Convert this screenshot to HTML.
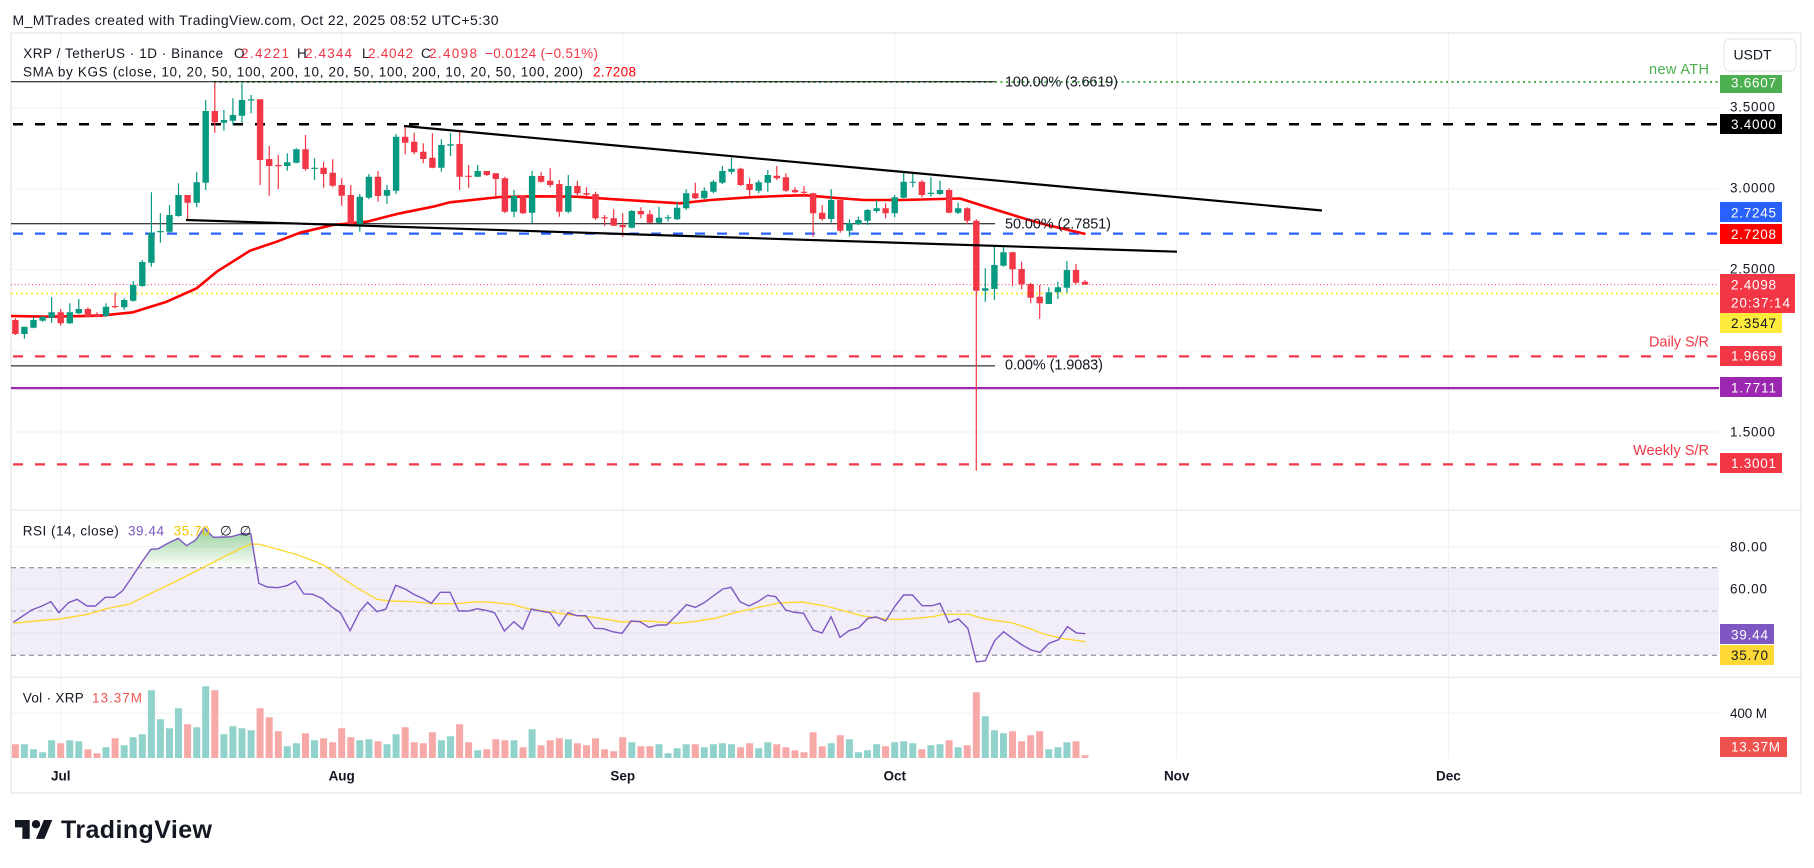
<!DOCTYPE html>
<html><head><meta charset="utf-8"><style>
html,body{margin:0;padding:0;background:#fff;}
svg{display:block;font-family:"Liberation Sans",sans-serif;}
</style></head><body>
<svg width="1814" height="868" viewBox="0 0 1814 868" xmlns="http://www.w3.org/2000/svg">
<defs>
<clipPath id="mc"><rect x="11" y="34" width="1708" height="476"/></clipPath>
<clipPath id="rc"><rect x="11" y="511" width="1708" height="166"/></clipPath>
<linearGradient id="gf" x1="0" y1="0" x2="0" y2="1"><stop offset="0" stop-color="#4caf50" stop-opacity="0.6"/><stop offset="1" stop-color="#4caf50" stop-opacity="0"/></linearGradient>
</defs>
<rect width="1814" height="868" fill="#fff"/>
<text x="12.5" y="25" font-size="14" fill="#131722" textLength="486">M_MTrades created with TradingView.com, Oct 22, 2025 08:52 UTC+5:30</text>
<rect x="11" y="33" width="1790" height="760" fill="#fff" stroke="#efeff2" stroke-width="2"/>

<!-- grid -->
<g stroke="#f0f1f4" stroke-width="1">
<path d="M60.7 34V758M341.7 34V758M622.7 34V758M894.7 34V758M1176.7 34V758M1448.4 34V758"/>
<path d="M11 108.3H1719M11 189H1719M11 269.5H1719M11 351H1719M11 432H1719M11 546.7H1719M11 589H1719M11 633H1719M11 713.3H1719"/>
</g>
<path d="M11 510H1801M11 677.3H1801" stroke="#e0e3eb" stroke-width="1"/>

<!-- main pane -->
<g clip-path="url(#mc)">
<path d="M13 124.2H1719" stroke="#000" stroke-width="2.5" stroke-dasharray="10 12"/>
<path d="M13 233.6H1719" stroke="#2962ff" stroke-width="2.2" stroke-dasharray="10 12"/>
<path d="M13 356.4H1719" stroke="#f23645" stroke-width="2.2" stroke-dasharray="10 12"/>
<path d="M13 464.4H1719" stroke="#f23645" stroke-width="2.2" stroke-dasharray="10 12"/>
<path d="M11 388.1H1719" stroke="#9c27b0" stroke-width="2.2"/>
<path d="M214 82H1719" stroke="#4caf50" stroke-width="2" stroke-dasharray="2 3.5"/>
<path d="M11 293.5H1719" stroke="#ffeb3b" stroke-width="2" stroke-dasharray="2 3"/>
<path d="M11 284.6H1719" stroke="#f23645" stroke-width="1" stroke-dasharray="1 2.5"/>
<path d="M11 81.8H995M11 223.8H995M11 365.9H995" stroke="#000" stroke-width="1"/>
<polyline fill="none" stroke="#ff0000" stroke-width="2.6" stroke-linejoin="round" points="11,316 50,316.7 100,315.7 133,312.3 166.7,301.7 196.7,288.3 216.7,271.7 250,250.7 276.7,241.7 300,232.7 333,225 366.7,221.7 400,213.3 433,206.7 450,202.3 500,197 538,196.3 576.5,196.7 614.8,199.3 653,201.7 680,203.3 710.5,200 748.8,197.3 787,195.7 806,195.3 833,197.7 863.6,200 901.8,200 940,199 960,198.5 986,206.7 1026.7,219.3 1047,225 1085.5,234"/>
<!-- wicks -->
<path stroke="#089981" stroke-width="1.2" fill="none" d="M24.4 326.7V338.7M33.5 316.7V328.3M42.6 316V321.7M51.6 297.3V322.7M69.8 303.3V324M78.8 299V314M106 303.3V316.7M124.2 298.3V310M133.2 281V301.7M142.3 260V286.7M151.4 192.3V266.7M160.4 213.3V242.7M169.5 205V232.7M178.5 183.3V216.7M196.7 172.3V207.3M205.7 100V190M223.9 110V130.7M232.9 98.3V125M242 83.3V122.7M251.1 95V113.3M287.3 153.3V170.7M296.4 148.3V163.3M314.5 158.3V180M359.8 194V231.7M368.9 174V199.3M387 185V204M396.1 134V194M441.4 139.3V171.7M450.5 133.3V156M477.7 165V177M514 190V217.3M532.1 170.7V223.3M568.3 175V213.3M631.8 210V228.3M659 206.7V223.3M668.1 215V221.7M677.1 201.7V220M686.2 189.3V210M704.3 187.3V199.3M713.4 180V193.3M722.4 166V184M731.5 157.7V174M758.7 180V193.3M767.8 170V191.7M831.2 189.3V222.7M849.4 219.3V236.7M858.4 216.7V225M867.5 209V225M876.6 200V212.7M894.7 195V217.3M903.7 172.7V198.3M912.8 173.3V187.3M930.9 177.3V196.7M940 180.7V195M958.1 202.7V214M985.3 268.3V301.7M994.4 246.7V300M1003.5 246.7V266.7M1048.8 287.3V304M1057.9 281.7V299M1066.9 261V292.7"/>
<path stroke="#f23645" stroke-width="1.2" fill="none" d="M15.4 318.3V335M60.7 309V325.7M87.9 307.3V317.3M97 312.3V317.3M115.1 292.7V308.3M187.6 195V219.3M214.8 82.7V132.7M260.1 99.3V185M269.2 146V195.7M278.3 155V189M305.5 135V170.7M323.6 161.7V187.7M332.7 159.3V187.3M341.7 178.3V205.7M350.8 185V226.7M378 171V201.7M405.2 125.7V154.3M414.2 132.7V154.3M423.3 143.3V163.3M432.4 133.3V168.3M459.6 131.7V190M468.6 165V187.7M486.8 171V176M495.8 173.3V196.7M504.9 176.7V213.3M523 195V214M541.1 171.7V182.7M550.2 168.3V187.3M559.3 180V216.7M577.4 180.7V195M586.5 187.3V196.7M595.5 191.7V220M604.6 215V226M613.7 209.3V226M622.7 213.3V236.7M640.9 207.3V218.3M649.9 210V223.3M695.3 182.7V199M740.6 167.7V186M749.6 178.3V196M776.8 166V180M785.9 173.3V191.7M795 187.3V193.3M804 186V196.7M813.1 192.7V236.7M822.2 205V220.7M840.3 198.3V232.7M885.6 203.3V218.3M921.9 180V197.3M949.1 188.3V213.3M967.2 207.3V224M976.3 219.3V470.7M1012.5 251.7V286M1021.6 261.7V289.3M1030.7 282.7V303.3M1039.7 285V319M1076 264V284M1085 280V284.6"/>
<!-- bodies -->
<path fill="#089981" d="M21.2 326.7h6.4V334h-6.4zM30.3 320h6.4V327.7h-6.4zM39.4 316.7h6.4V320.7h-6.4zM48.4 312.3h6.4V317.7h-6.4zM66.6 312.3h6.4V323.3h-6.4zM75.6 309h6.4V313.3h-6.4zM102.8 306.7h6.4V316h-6.4zM121 300h6.4V307.3h-6.4zM130 285h6.4V300.7h-6.4zM139.1 262h6.4V286h-6.4zM148.2 232.7h6.4V262.7h-6.4zM157.2 231h6.4V232.3h-6.4zM166.3 215h6.4V231.7h-6.4zM175.3 195h6.4V216h-6.4zM193.5 182.3h6.4V202.7h-6.4zM202.5 111h6.4V182.7h-6.4zM220.7 120h6.4V122.7h-6.4zM229.7 115h6.4V120.7h-6.4zM238.8 100h6.4V115.7h-6.4zM247.9 99.3h6.4V100.5h-6.4zM284.1 162.3h6.4V166h-6.4zM293.2 149.3h6.4V162.7h-6.4zM311.3 167.7h6.4V169h-6.4zM356.6 196.7h6.4V225.7h-6.4zM365.7 176.7h6.4V197.7h-6.4zM383.8 190h6.4V195.7h-6.4zM392.9 136.7h6.4V190.7h-6.4zM438.2 145h6.4V167.7h-6.4zM447.3 144.3h6.4V145.7h-6.4zM474.5 171h6.4V176.7h-6.4zM510.8 196h6.4V211.7h-6.4zM528.9 176h6.4V212.7h-6.4zM565.1 186h6.4V211.7h-6.4zM628.6 211h6.4V227.7h-6.4zM655.8 217.7h6.4V222.7h-6.4zM664.9 217.3h6.4V218.5h-6.4zM673.9 207.7h6.4V219.3h-6.4zM683 193.3h6.4V208.3h-6.4zM701.1 190.7h6.4V198.3h-6.4zM710.2 181.7h6.4V191.7h-6.4zM719.2 171h6.4V182.7h-6.4zM728.3 168.7h6.4V171.7h-6.4zM755.5 182.3h6.4V190.7h-6.4zM764.6 175h6.4V182.7h-6.4zM828 200h6.4V219h-6.4zM846.2 223.3h6.4V230.7h-6.4zM855.2 220h6.4V224h-6.4zM864.3 210h6.4V220.7h-6.4zM873.4 208.3h6.4V211h-6.4zM891.5 197.3h6.4V213.3h-6.4zM900.5 181.7h6.4V197.7h-6.4zM909.6 181.7h6.4V182.7h-6.4zM927.7 192.7h6.4V194h-6.4zM936.8 190h6.4V194h-6.4zM954.9 208.3h6.4V212.7h-6.4zM982.1 288.3h6.4V290.7h-6.4zM991.2 265h6.4V289h-6.4zM1000.3 252.3h6.4V265.7h-6.4zM1045.6 292.3h6.4V304h-6.4zM1054.7 287.3h6.4V292.3h-6.4zM1063.7 270h6.4V287.7h-6.4z"/>
<path fill="#f23645" d="M12.2 320h6.4V334h-6.4zM57.5 312.3h6.4V323.3h-6.4zM84.7 309h6.4V316.7h-6.4zM93.8 314h6.4V316.7h-6.4zM111.9 306h6.4V307.3h-6.4zM184.4 195h6.4V202.7h-6.4zM211.6 111h6.4V122.3h-6.4zM256.9 99.3h6.4V160h-6.4zM266 159h6.4V166h-6.4zM275.1 165h6.4V166.2h-6.4zM302.3 149.3h6.4V169h-6.4zM320.4 167.7h6.4V174h-6.4zM329.5 172.7h6.4V185.7h-6.4zM338.5 185h6.4V195.7h-6.4zM347.6 195h6.4V225.7h-6.4zM374.8 176.7h6.4V196h-6.4zM402 136.7h6.4V142.7h-6.4zM411 141.7h6.4V152.3h-6.4zM420.1 151.7h6.4V159h-6.4zM429.2 157.7h6.4V167.7h-6.4zM456.4 144h6.4V176.7h-6.4zM465.4 175.7h6.4V176.9h-6.4zM483.6 171h6.4V175h-6.4zM492.6 173.3h6.4V179h-6.4zM501.7 178.3h6.4V211.7h-6.4zM519.8 196h6.4V213.3h-6.4zM537.9 176h6.4V181.7h-6.4zM547 180.7h6.4V185h-6.4zM556.1 184h6.4V211.7h-6.4zM574.2 186h6.4V193.3h-6.4zM583.3 193.3h6.4V194.7h-6.4zM592.3 194h6.4V218.3h-6.4zM601.4 217.3h6.4V218.5h-6.4zM610.5 218.3h6.4V225.7h-6.4zM619.5 225h6.4V227.3h-6.4zM637.7 211h6.4V214.3h-6.4zM646.7 214.3h6.4V222.7h-6.4zM692.1 193.3h6.4V198.3h-6.4zM737.4 168.7h6.4V185h-6.4zM746.4 184h6.4V190h-6.4zM773.6 175.7h6.4V178.3h-6.4zM782.7 177.3h6.4V190.7h-6.4zM791.8 190h6.4V192.3h-6.4zM800.8 191.7h6.4V192.9h-6.4zM809.9 193.3h6.4V213.3h-6.4zM819 212.7h6.4V219h-6.4zM837.1 200h6.4V230.7h-6.4zM882.4 208.3h6.4V213.3h-6.4zM918.7 181.7h6.4V195h-6.4zM945.9 190h6.4V212.7h-6.4zM964 208.3h6.4V220.7h-6.4zM973.1 220.7h6.4V290.7h-6.4zM1009.3 252.3h6.4V269.3h-6.4zM1018.4 269h6.4V284.3h-6.4zM1027.5 284h6.4V297.7h-6.4zM1036.5 296.7h6.4V303.3h-6.4zM1072.8 270h6.4V282.7h-6.4zM1081.8 281.7h6.4V284.6h-6.4z"/>
<!-- trendlines -->
<path d="M404 126L1322 210.5M186 220L1177 251.7" stroke="#000" stroke-width="2.2" fill="none"/>
</g>

<!-- chart annotations -->
<g font-size="14.5" fill="#131722">
<text x="1005" y="86.7" textLength="113">100.00% (3.6619)</text>
<text x="1005" y="228.5" textLength="106">50.00% (2.7851)</text>
<text x="1005" y="369.5" textLength="98">0.00% (1.9083)</text>
</g>
<text x="1649" y="74" font-size="14.5" fill="#4caf50" textLength="60">new ATH</text>
<text x="1649" y="346.5" font-size="14.5" fill="#f23645" textLength="60">Daily S/R</text>
<text x="1633" y="455" font-size="14.5" fill="#f23645" textLength="76">Weekly S/R</text>

<!-- legend -->
<g font-size="13.5" fill="#131722">
<text x="23.2" y="58" textLength="200">XRP / TetherUS · 1D · Binance</text>
<text x="234" y="58">O</text><text x="241" y="58" fill="#f23645" textLength="48">2.4221</text>
<text x="297" y="58">H</text><text x="305" y="58" fill="#f23645" textLength="47">2.4344</text>
<text x="362" y="58">L</text><text x="368" y="58" fill="#f23645" textLength="45">2.4042</text>
<text x="421" y="58">C</text><text x="429" y="58" fill="#f23645" textLength="48">2.4098</text>
<text x="485" y="58" fill="#f23645" textLength="113">−0.0124 (−0.51%)</text>
<text x="23" y="76.5" textLength="560">SMA by KGS (close, 10, 20, 50, 100, 200, 10, 20, 50, 100, 200, 10, 20, 50, 100, 200)</text>
<text x="593" y="76.5" fill="#ff0000" textLength="43">2.7208</text>
</g>

<!-- RSI pane -->
<rect x="11" y="567.7" width="1708" height="87.5" fill="#7e57c2" fill-opacity="0.1"/>
<path d="M11 567.7H1719M11 655.2H1719" stroke="#787b86" stroke-width="1" stroke-dasharray="5 4"/>
<path d="M11 611H1719" stroke="#b2b5be" stroke-width="1" stroke-dasharray="5 4"/>
<g clip-path="url(#rc)">
<g transform="translate(0 505) scale(0.350765 0.333333)">
<polygon fill="url(#gf)" points="395,188 405,170 430,133 452,131 478,115 508,100 532,122 558,105 582,68 608,97 640,96 660,95 690,86 715,86 728,188"/>
<polyline fill="none" stroke="#fdd835" stroke-width="1.4" vector-effect="non-scaling-stroke" points="38,355 100,348 170,342 250,328 300,312 370,297 430,265 500,230 560,198 620,165 680,134 715,117 740,118 800,135 850,150 900,170 930,185 970,215 1020,250 1075,283 1110,288 1180,290 1230,296 1300,296 1360,290 1400,292 1460,298 1500,310 1540,316"/>
<polyline fill="none" stroke="#7e57c2" stroke-width="1.4" vector-effect="non-scaling-stroke" points="38,352 62,335 90,315 120,303 145,290 168,323 195,293 220,283 248,303 272,303 300,277 325,277 350,257 380,210 405,170 430,133 452,131 478,115 508,100 532,122 558,105 582,68 608,97 640,96 660,95 690,86 715,86 738,235 762,246 792,248 818,242 842,228 866,267 892,268 918,280 945,305 970,323 998,377 1025,320 1048,292 1075,320 1100,312 1128,241 1155,252 1180,268 1205,280 1230,295 1255,262 1283,262 1308,318 1335,318 1360,311 1385,316 1410,323 1438,378 1465,350 1490,373 1515,312 1540,318"/>
</g>
<g transform="translate(540 505) scale(0.357143 0.333333)">
<polyline fill="none" stroke="#fdd835" stroke-width="1.4" vector-effect="non-scaling-stroke" points="0,316 100,332 150,337 230,351 300,348 380,355 430,350 490,340 550,322 620,305 670,294 735,291 800,303 850,317 900,332 960,341 1000,344 1050,340 1100,335 1130,328 1200,328 1250,343 1320,353 1370,370 1410,387 1460,400 1527,410"/>
<polyline fill="none" stroke="#7e57c2" stroke-width="1.4" vector-effect="non-scaling-stroke" points="0,318 28,323 53,363 78,323 103,332 128,332 153,370 178,371 203,380 230,385 255,348 280,350 305,367 330,360 355,360 383,330 410,299 435,307 460,293 485,273 512,252 535,247 560,290 585,303 610,290 637,271 660,275 688,315 712,322 738,325 765,375 790,384 815,335 840,397 865,377 893,368 918,340 942,336 968,348 993,305 1018,270 1043,270 1070,302 1098,302 1120,295 1145,353 1172,342 1198,370 1222,471 1247,467 1273,407 1298,380 1323,400 1350,420 1375,435 1400,442 1425,415 1452,404 1477,365 1502,384 1527,386"/>
</g>
</g>
<g font-size="13.5">
<text x="22.8" y="535.7" fill="#131722" textLength="96">RSI (14, close)</text>
<text x="128" y="535.7" fill="#7e57c2" textLength="36">39.44</text>
<text x="173.6" y="535.7" fill="#f7c600" textLength="36">35.70</text>
<text x="220" y="535.7" fill="#131722">∅</text>
<text x="239.6" y="535.7" fill="#131722">∅</text>
</g>

<!-- volume pane -->
<path fill="#92d2cc" d="M20.9 758v-13.7h7v13.7zM30 758v-8.7h7v8.7zM39.1 758v-5.7h7v5.7zM48.1 758v-17.7h7v17.7zM66.3 758v-17.7h7v17.7zM75.3 758v-16.7h7v16.7zM102.5 758v-10.7h7v10.7zM120.7 758v-12.7h7v12.7zM129.7 758v-20.7h7v20.7zM138.8 758v-23.7h7v23.7zM147.9 758v-67.7h7v67.7zM156.9 758v-38.7h7v38.7zM166 758v-29.7h7v29.7zM175 758v-49.7h7v49.7zM193.2 758v-30.7h7v30.7zM202.2 758v-71.7h7v71.7zM220.4 758v-23.7h7v23.7zM229.4 758v-31.7h7v31.7zM238.5 758v-29.7h7v29.7zM247.6 758v-27.7h7v27.7zM283.8 758v-11.7h7v11.7zM292.9 758v-14.7h7v14.7zM311 758v-17.7h7v17.7zM356.3 758v-17.7h7v17.7zM365.4 758v-18.7h7v18.7zM383.5 758v-13.7h7v13.7zM392.6 758v-23.7h7v23.7zM437.9 758v-17.7h7v17.7zM447 758v-21.7h7v21.7zM474.2 758v-7.7h7v7.7zM510.5 758v-17.7h7v17.7zM528.6 758v-28.7h7v28.7zM564.8 758v-18.7h7v18.7zM628.3 758v-15.7h7v15.7zM655.5 758v-13.7h7v13.7zM664.6 758v-4.7h7v4.7zM673.6 758v-9.7h7v9.7zM682.7 758v-13.7h7v13.7zM700.8 758v-10.7h7v10.7zM709.9 758v-13.7h7v13.7zM718.9 758v-14.7h7v14.7zM728 758v-13.7h7v13.7zM755.2 758v-9.7h7v9.7zM764.3 758v-15.7h7v15.7zM827.7 758v-14.7h7v14.7zM845.9 758v-18.7h7v18.7zM854.9 758v-5.7h7v5.7zM864 758v-7.7h7v7.7zM873.1 758v-13.7h7v13.7zM891.2 758v-15.7h7v15.7zM900.2 758v-16.7h7v16.7zM909.3 758v-14.7h7v14.7zM927.4 758v-12.7h7v12.7zM936.5 758v-13.7h7v13.7zM954.6 758v-10.7h7v10.7zM981.8 758v-41.7h7v41.7zM990.9 758v-27.7h7v27.7zM1000 758v-24.7h7v24.7zM1045.3 758v-8.7h7v8.7zM1054.4 758v-10.7h7v10.7zM1063.4 758v-15.7h7v15.7z"/>
<path fill="#f7a9a7" d="M11.9 758v-13.7h7v13.7zM57.2 758v-14.7h7v14.7zM84.4 758v-8.7h7v8.7zM93.5 758v-4.7h7v4.7zM111.6 758v-19.7h7v19.7zM184.1 758v-33.7h7v33.7zM211.3 758v-67.7h7v67.7zM256.6 758v-49.7h7v49.7zM265.7 758v-40.7h7v40.7zM274.8 758v-26.7h7v26.7zM302 758v-24.7h7v24.7zM320.1 758v-19.7h7v19.7zM329.2 758v-15.7h7v15.7zM338.2 758v-29.7h7v29.7zM347.3 758v-20.7h7v20.7zM374.5 758v-16.7h7v16.7zM401.7 758v-30.7h7v30.7zM410.7 758v-15.7h7v15.7zM419.8 758v-14.7h7v14.7zM428.9 758v-25.7h7v25.7zM456.1 758v-33.7h7v33.7zM465.1 758v-15.7h7v15.7zM483.3 758v-8.7h7v8.7zM492.3 758v-18.7h7v18.7zM501.4 758v-17.7h7v17.7zM519.5 758v-10.7h7v10.7zM537.6 758v-12.7h7v12.7zM546.7 758v-17.7h7v17.7zM555.8 758v-19.7h7v19.7zM573.9 758v-14.7h7v14.7zM583 758v-12.7h7v12.7zM592 758v-19.7h7v19.7zM601.1 758v-8.7h7v8.7zM610.2 758v-6.7h7v6.7zM619.2 758v-20.7h7v20.7zM637.4 758v-11.7h7v11.7zM646.4 758v-11.7h7v11.7zM691.8 758v-13.7h7v13.7zM737.1 758v-10.7h7v10.7zM746.1 758v-14.7h7v14.7zM773.3 758v-13.7h7v13.7zM782.4 758v-10.7h7v10.7zM791.5 758v-7.7h7v7.7zM800.5 758v-5.7h7v5.7zM809.6 758v-25.7h7v25.7zM818.7 758v-11.7h7v11.7zM836.8 758v-22.7h7v22.7zM882.1 758v-11.7h7v11.7zM918.4 758v-8.7h7v8.7zM945.6 758v-17.7h7v17.7zM963.7 758v-12.7h7v12.7zM972.8 758v-65.7h7v65.7zM1009 758v-26.7h7v26.7zM1018.1 758v-16.7h7v16.7zM1027.2 758v-22.7h7v22.7zM1036.2 758v-26.7h7v26.7zM1072.5 758v-16.7h7v16.7zM1081.5 758v-2.7h7v2.7z"/>
<g font-size="13.5">
<text x="22.8" y="702.4" fill="#131722" textLength="61">Vol · XRP</text>
<text x="92" y="702.4" fill="#ef5350" textLength="50">13.37M</text>
</g>

<!-- time axis -->
<g font-size="13.5" font-weight="bold" fill="#131722" text-anchor="middle">
<text x="60.7" y="780.4">Jul</text>
<text x="341.7" y="780.4">Aug</text>
<text x="622.7" y="780.4">Sep</text>
<text x="894.7" y="780.4">Oct</text>
<text x="1176.7" y="780.4">Nov</text>
<text x="1448.4" y="780.4">Dec</text>
</g>

<!-- price axis -->
<rect x="1724" y="39" width="72" height="32" rx="6" fill="#fff" stroke="#e0e3eb"/>
<text x="1752.5" y="59.5" font-size="14" fill="#131722" text-anchor="middle">USDT</text>
<g font-size="13.5" fill="#131722">
<text x="1730" y="111.7" textLength="45">3.5000</text>
<text x="1730" y="192.7" textLength="45">3.0000</text>
<text x="1730" y="273.7" textLength="45">2.5000</text>
<text x="1730" y="436.7" textLength="45">1.5000</text>
<text x="1730" y="551.4" textLength="37">80.00</text>
<text x="1730" y="593.7" textLength="37">60.00</text>
<text x="1730" y="718" textLength="37">400 M</text>
</g>
<rect x="1720" y="75" width="62" height="18" fill="#4caf50"/>
<rect x="1720" y="114" width="62" height="20" fill="#000"/>
<rect x="1720" y="202" width="62" height="20" fill="#2962ff"/>
<rect x="1720" y="224" width="62" height="20" fill="#ff0000"/>
<rect x="1720" y="274" width="75" height="39" fill="#f23645"/>
<rect x="1720" y="313" width="62" height="20" fill="#ffeb3b"/>
<rect x="1720" y="346" width="62" height="20" fill="#f23645"/>
<rect x="1720" y="377" width="62" height="20" fill="#9c27b0"/>
<rect x="1720" y="453" width="62" height="20" fill="#f23645"/>
<rect x="1720" y="624" width="54" height="20" fill="#7e57c2"/>
<rect x="1720" y="645" width="54" height="20" fill="#fdd835"/>
<rect x="1720" y="737" width="67" height="20" fill="#ef5350"/>
<g font-size="13.5" fill="#fff">
<text x="1731" y="87.5" textLength="45">3.6607</text>
<text x="1731" y="129" textLength="45">3.4000</text>
<text x="1731" y="217.4" textLength="45">2.7245</text>
<text x="1731" y="239" textLength="45">2.7208</text>
<text x="1731" y="289.4" textLength="45">2.4098</text>
<text x="1731" y="307.4" textLength="59">20:37:14</text>
<text x="1731" y="328" textLength="45" fill="#131722">2.3547</text>
<text x="1731" y="360.7" textLength="45">1.9669</text>
<text x="1731" y="392.4" textLength="45">1.7711</text>
<text x="1731" y="468" textLength="45">1.3001</text>
<text x="1731" y="639.7" textLength="37">39.44</text>
<text x="1731" y="660" textLength="37" fill="#131722">35.70</text>
<text x="1731" y="751.7" textLength="49">13.37M</text>
</g>

<!-- logo -->
<g transform="translate(15 815.8) scale(1.05)" fill="#131722">
<path d="M14 22H7V11H0V4h14v18z"/><circle cx="20" cy="8" r="4"/><path d="M28 22h-8l7.5-18h8z"/>
</g>
<text x="61" y="838" font-size="25" font-weight="bold" fill="#131722" textLength="151">TradingView</text>
</svg>
</body></html>
